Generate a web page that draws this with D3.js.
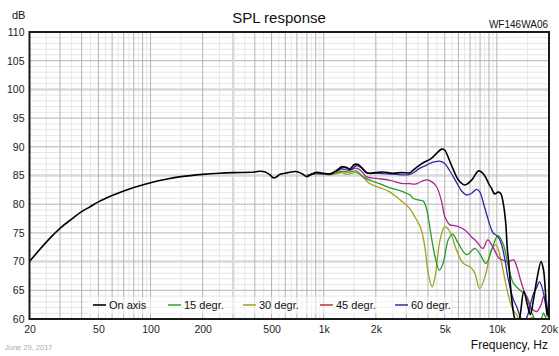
<!DOCTYPE html>
<html><head><meta charset="utf-8">
<script src="https://cdn.jsdelivr.net/npm/d3@7"></script>
<style>body{margin:0;background:#fff}svg{display:block;font-family:"Liberation Sans",Arial,sans-serif}</style>
</head><body><svg id="c" width="559" height="356"></svg>
<script>
const xTickValues = [20, 50, 100, 200, 500, 1000, 2000, 5000, 10000, 20000];
const xTickLabels = ["20", "50", "100", "200", "500", "1k", "2k", "5k", "10k", "20k"];
const yTickValues = [60, 65, 70, 75, 80, 85, 90, 95, 100, 105, 110];
const seriesNames = ["On axis", "15 degr.", "30 degr.", "45 degr.", "60 degr."];

const onAxisF = [20,22,25,27.5,30,35,40,45,50,60,70,80,100,125,150,200,250,300,400,430,460,490,510,530,560,620,690,750,800,860,910,990,1090,1180,1270,1360,1410,1510,1580,1680,1760,1840,2000,2200,2500,2800,3150,3300,3580,3800,4100,4300,4500,4800,5000,5360,5700,6000,6500,7150,7850,8450,9000,9300,9700,10150,10500,10850,11250,11500,11700,12200,12800,13300,14300,15000,15600,16300,17000,18000,18600,19000,19500,20000];
const onAxisDb = [70.0,71.5,73.4,74.7,75.8,77.4,78.7,79.6,80.4,81.5,82.3,82.9,83.75,84.4,84.8,85.2,85.4,85.5,85.6,85.75,85.6,85.1,84.6,84.7,85.2,85.5,85.7,85.3,84.8,85.3,85.55,85.4,85.3,85.8,86.5,86.4,86.1,86.95,86.9,86.2,85.5,85.4,85.5,85.6,85.4,85.5,85.5,86.0,86.8,87.3,87.8,88.3,88.9,89.6,89.4,87.4,85.5,84.2,83.35,84.2,85.8,85.1,83.5,82.8,81.8,82.1,81.9,80.4,76.7,72.0,70.0,63.3,59.8,59.5,64.8,62.5,60.8,63.5,66.8,70.0,68.5,65.5,60.5,64.0];

const deg15F = [800,900,1000,1100,1180,1270,1400,1540,1680,1840,2100,2390,2860,3150,3290,3570,3740,3900,4050,4200,4400,4650,4890,5240,5550,5980,6700,7460,7950,8660,9460,10140,10840,11650,12480,13640,14920,15960,17000,18000,18600,19300,20000];
const deg15Db = [85.0,85.3,85.2,85.2,85.5,85.7,85.6,85.8,84.8,84.2,83.6,82.9,82.2,81.6,81.0,80.7,80.6,79.5,77.0,74.0,70.8,68.5,69.7,73.8,74.8,73.2,71.2,72.3,71.4,69.7,72.6,74.5,73.2,69.1,66.2,65.0,63.9,61.0,59.5,60.0,61.0,60.0,59.5];

const deg30F = [800,900,1000,1100,1180,1270,1360,1540,1680,1840,2100,2390,2750,3150,3390,3640,3840,4010,4230,4400,4700,5010,5360,5850,6390,6990,7460,7950,8660,9270,9900,10600,11350,12200,13040,14000,15000,16000,17000,18000,19000,20000];
const deg30Db = [85.0,85.3,85.2,85.1,85.3,85.5,85.2,85.5,84.8,83.6,82.9,82.2,80.8,79.2,77.6,75.8,72.5,68.0,65.6,67.4,73.8,76.1,75.2,72.0,69.7,69.1,68.0,65.3,68.0,72.0,72.9,70.0,65.6,62.1,60.7,59.0,59.5,60.3,59.0,58.0,58.0,58.0];

const deg45F = [800,900,1000,1100,1180,1270,1400,1540,1650,1760,2010,2390,2860,3150,3290,3460,3840,4100,4490,4800,5010,5360,5600,5980,6540,7150,7630,8300,8860,9460,10300,11000,11650,12480,13040,13640,14300,15000,15600,16300,17000,18000,18600,19200,19600,20000];
const deg45Db = [85.0,85.4,85.3,85.3,85.7,86.1,85.9,86.3,85.8,84.8,84.5,84.2,83.6,83.6,83.5,83.6,84.2,84.1,83.0,80.4,77.8,76.4,76.3,76.1,75.5,74.3,73.5,72.3,73.8,72.6,70.6,70.2,70.0,70.3,69.1,67.0,65.0,63.5,62.1,61.5,61.3,62.5,63.9,62.5,61.6,61.0];

const deg60F = [800,900,1000,1100,1180,1270,1360,1420,1540,1600,1700,1800,2000,2300,2600,2900,3150,3350,3570,3800,4100,4400,4650,5000,5300,5600,6000,6260,6700,7150,7630,7950,8470,9100,9500,10100,10500,10850,11250,11650,12480,13040,13640,14300,15000,15600,16300,17000,17600,18200,19000,19600,20000];
const deg60Db = [85.0,85.4,85.3,85.3,85.8,86.3,86.3,86.0,86.7,86.6,86.0,85.4,85.4,85.3,85.2,85.1,85.2,85.6,86.25,86.6,87.1,87.4,87.5,87.1,86.0,84.8,83.2,82.3,81.6,81.9,82.6,82.2,79.6,76.4,75.0,74.4,73.5,72.0,69.5,66.8,63.3,62.1,60.4,59.5,60.5,62.5,64.5,65.5,66.5,65.6,63.0,61.0,60.5];

const curveColors = ["#000000", "#2a9a2a", "#a3a21e", "#a82496", "#2a2aa6"];
const legendColors = ["#000000", "#3fa53f", "#a8a030", "#c43a4a", "#3a3aa8"];

const m = {l: 29.5, r: 549, t: 32, b: 319};
const svg = d3.select("#c");
const x = d3.scaleLog().domain([20, 20000]).range([m.l, m.r]);
const y = d3.scaleLinear().domain([60, 110]).range([m.b, m.t]);

// grid
const g = svg.append("g");
const minorF = [], majorF = [];
for (const dec of [10, 100, 1000, 10000]) {
  for (let k = 1; k <= 9; k++) {
    const f = k * dec;
    if (f > 20 && f < 20000) majorF.push(f);
    const h = (k + 0.5) * dec;
    if (h > 20 && h < 20000) minorF.push(h);
  }
}
g.selectAll(".hmin").data(d3.range(60, 111, 1).filter(v => v % 5 !== 0)).enter().append("line")
  .attr("x1", m.l).attr("x2", m.r).attr("y1", d => y(d)).attr("y2", d => y(d))
  .attr("stroke", "#e6e6e6").attr("stroke-width", 1);
g.selectAll(".vmin").data(minorF).enter().append("line")
  .attr("x1", d => x(d)).attr("x2", d => x(d)).attr("y1", m.t).attr("y2", m.b)
  .attr("stroke", "#e6e6e6").attr("stroke-width", 1);
g.selectAll(".hmaj").data(yTickValues.filter(v => v > 60 && v < 110)).enter().append("line")
  .attr("x1", m.l).attr("x2", m.r).attr("y1", d => y(d)).attr("y2", d => y(d))
  .attr("stroke", d => (d === 70 || d === 85 || d === 100) ? "#d9d9d9" : "#b4b4b4")
  .attr("stroke-width", d => (d === 70 || d === 85 || d === 100) ? 2.5 : 1);
g.selectAll(".vmaj").data(majorF).enter().append("line")
  .attr("x1", d => x(d)).attr("x2", d => x(d)).attr("y1", m.t).attr("y2", m.b)
  .attr("stroke", d => d === 300 ? "#d9d9d9" : "#b4b4b4")
  .attr("stroke-width", d => d === 300 ? 2.5 : 1);

// curves
svg.append("clipPath").attr("id", "clip").append("rect")
  .attr("x", m.l).attr("y", m.t).attr("width", m.r - m.l).attr("height", m.b - m.t);
const series = [
  {f: deg30F, v: deg30Db, c: 2},
  {f: deg15F, v: deg15Db, c: 1},
  {f: deg45F, v: deg45Db, c: 3},
  {f: deg60F, v: deg60Db, c: 4},
  {f: onAxisF, v: onAxisDb, c: 0}
];
const line = d3.line().x(d => x(d[0])).y(d => y(d[1])).curve(d3.curveCatmullRom.alpha(0.5));
const cg = svg.append("g").attr("clip-path", "url(#clip)");
series.forEach(s => {
  cg.append("path").datum(s.f.map((f, i) => [f, s.v[i]]))
    .attr("d", line).attr("fill", "none")
    .attr("stroke", curveColors[s.c]).attr("stroke-width", s.c === 0 ? 1.6 : 1.3)
    .attr("stroke-linejoin", "round");
});

// frame
svg.append("rect").attr("x", m.l).attr("y", m.t).attr("width", m.r - m.l).attr("height", m.b - m.t)
  .attr("fill", "none").attr("stroke", "#1a1a1a").attr("stroke-width", 2);

// axes labels
const yAxis = d3.axisLeft(y).tickValues(yTickValues).tickSize(0).tickPadding(5);
svg.append("g").attr("transform", `translate(${m.l},0)`).call(yAxis)
  .call(a => a.select(".domain").remove())
  .selectAll("text").attr("font-size", 10.5).attr("fill", "#222").attr("font-family", "Liberation Sans, Arial, sans-serif");
const xAxis = d3.axisBottom(x).tickValues(xTickValues).tickFormat((d, i) => xTickLabels[i]).tickSize(0).tickPadding(7);
svg.append("g").attr("transform", `translate(0,${m.b})`).call(xAxis)
  .call(a => a.select(".domain").remove())
  .selectAll("text").attr("font-size", 10.5).attr("fill", "#222").attr("font-family", "Liberation Sans, Arial, sans-serif");

svg.append("text").attr("x", 279).attr("y", 23).attr("text-anchor", "middle")
  .attr("font-size", 15).attr("fill", "#111").text("SPL response");
svg.append("text").attr("x", 12).attr("y", 19).attr("font-size", 11).attr("fill", "#111").text("dB");
svg.append("text").attr("x", 548).attr("y", 28).attr("text-anchor", "end")
  .attr("font-size", 10).attr("fill", "#111").text("WF146WA06");
svg.append("text").attr("x", 548).attr("y", 349).attr("text-anchor", "end")
  .attr("font-size", 12).attr("fill", "#111").text("Frequency, Hz");
svg.append("text").attr("x", 5).attr("y", 350).attr("font-size", 7.5).attr("fill", "#aaaaaa").text("June 29, 2017");

// legend
const legX = [93, 168, 243, 320, 395];
const lg = svg.append("g");
lg.append("rect").attr("x", 88).attr("y", 297).attr("width", 362).attr("height", 17)
  .attr("fill", "#fff").attr("opacity", 0.55);
seriesNames.forEach((n, i) => {
  lg.append("line").attr("x1", legX[i]).attr("x2", legX[i] + 13).attr("y1", 305).attr("y2", 305)
    .attr("stroke", legendColors[i]).attr("stroke-width", 1.6);
  lg.append("text").attr("x", legX[i] + 16).attr("y", 309).attr("font-size", 11).attr("fill", "#111").text(n);
});
</script></body></html>
